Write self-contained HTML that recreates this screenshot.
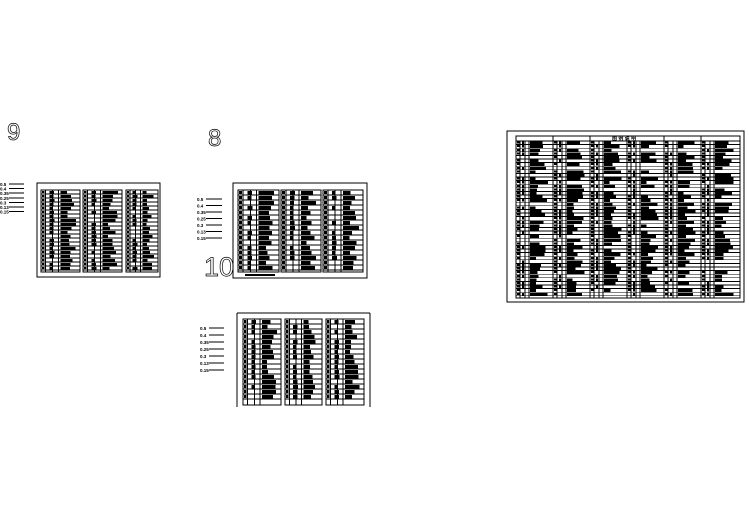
<!DOCTYPE html>
<html><head><meta charset="utf-8"><style>
html,body{margin:0;padding:0;background:#fff;width:749px;height:530px;overflow:hidden}
svg{display:block}
text{font-family:"Liberation Sans","Noto Sans CJK SC",sans-serif}
</style></head><body>
<svg id="s" width="749" height="530" viewBox="0 0 749 530" xmlns="http://www.w3.org/2000/svg" shape-rendering="crispEdges">
<text x="7" y="140" font-size="24" fill="none" stroke="#000" stroke-width="0.7">9</text>
<text x="208" y="146" font-size="24" fill="none" stroke="#000" stroke-width="0.7">8</text>
<text x="204" y="276" font-size="27" fill="none" stroke="#000" stroke-width="0.7">10</text>
<text x="612" y="140" font-size="5" font-weight="bold">图 例 说 明</text>
<g id="g" stroke="#000" fill="none" stroke-width="1"></g>
</svg>
<script>
var g=document.getElementById('g'),NS='http://www.w3.org/2000/svg';
var seed=7;function r(){seed=(seed*9301+49297)%233280;return seed/233280;}
function el(t,a){var e=document.createElementNS(NS,t);for(var k in a)e.setAttribute(k,a[k]);g.appendChild(e);return e;}
function line(x1,y1,x2,y2,w){el('line',{x1:x1,y1:y1,x2:x2,y2:y2,'stroke-width':w||1});}
function rect(x,y,w,h){el('rect',{x:x,y:y,width:w,height:h});}
function blob(x,y,w,h){el('rect',{x:x,y:y,width:w,height:h,fill:'#000',stroke:'none'});}
function sub(x0,x1,y0,y1,rh,dense){
 rect(x0,y0,x1-x0,y1-y0);
 var w=x1-x0,c1=x0+w*0.12,c2=x0+w*0.3,c3=x0+w*0.45;
 line(c1,y0,c1,y1);line(c2,y0,c2,y1);line(c3,y0,c3,y1);
 for(var y=y0+rh;y<y1-1;y+=rh){line(x0,y,x1,y);
  blob(x0+1,y-rh+1,c1-x0-2,rh-2);
  if(r()<0.7)blob(c2-3,y-rh+1,3+r()*2,rh-1);
  blob(c3+2,y-rh+1,(x1-c3-4)*(0.3+r()*0.6*dense),rh-1);}
}
// table A
rect(37,183,123,94);
sub(41,80,190,272,4,1);sub(83,122,190,272,4,1);sub(126,158,190,272,4,1);
// table B
rect(233,183,134,95);
sub(238,279,190,272,5,1);sub(281,321,190,272,5,1);sub(323,363,190,272,5,1);
blob(245,274,30,2);
// table C
line(237,313,370,313);line(237,313,237,407);line(370,313,370,407);
sub(243,281,319,405,5,1);sub(285,322,319,405,5,1);sub(326,364,319,405,5,1);
// labels
function labels(x,y0,n,dy,lx){for(var i=0;i<n;i++){var y=y0+i*dy;
 var t=document.createElementNS(NS,'text');t.setAttribute('x',x);t.setAttribute('y',y+2);t.setAttribute('font-size','4.5');t.setAttribute('font-weight','bold');t.textContent=['0.5','0.4','0.35','0.25','0.3','0.13','0.15'][i];document.getElementById('s').appendChild(t);
 line(x+9,y,lx,y);}}
labels(0,184,7,4.6,24);labels(197,199,7,6.5,222);labels(200,328,7,7,224);
// big table
rect(507,131,237,171);
rect(516,136,224,162);
line(516,141,740,141);
var xs=[516,553,590,627,664,701,740];
for(var i=0;i<6;i++){var a=xs[i],b=xs[i+1];
 line(b,136,b,298);
 var c1=a+4,c2=a+9,c3=a+13;line(c1,141,c1,298);line(c2,141,c2,298);line(c3,141,c3,298);
 for(var y=144.6;y<298;y+=3.6){line(a,y,b,y,0.8);
  if(r()<0.85){blob(a+1,y-3,3,2);blob(c3+1,y-3,(b-c3-3)*(0.25+r()*0.6),2.6);}
  if(r()<0.6)blob(c2-3,y-3,2,2.5);}
}
</script>
</body></html>
